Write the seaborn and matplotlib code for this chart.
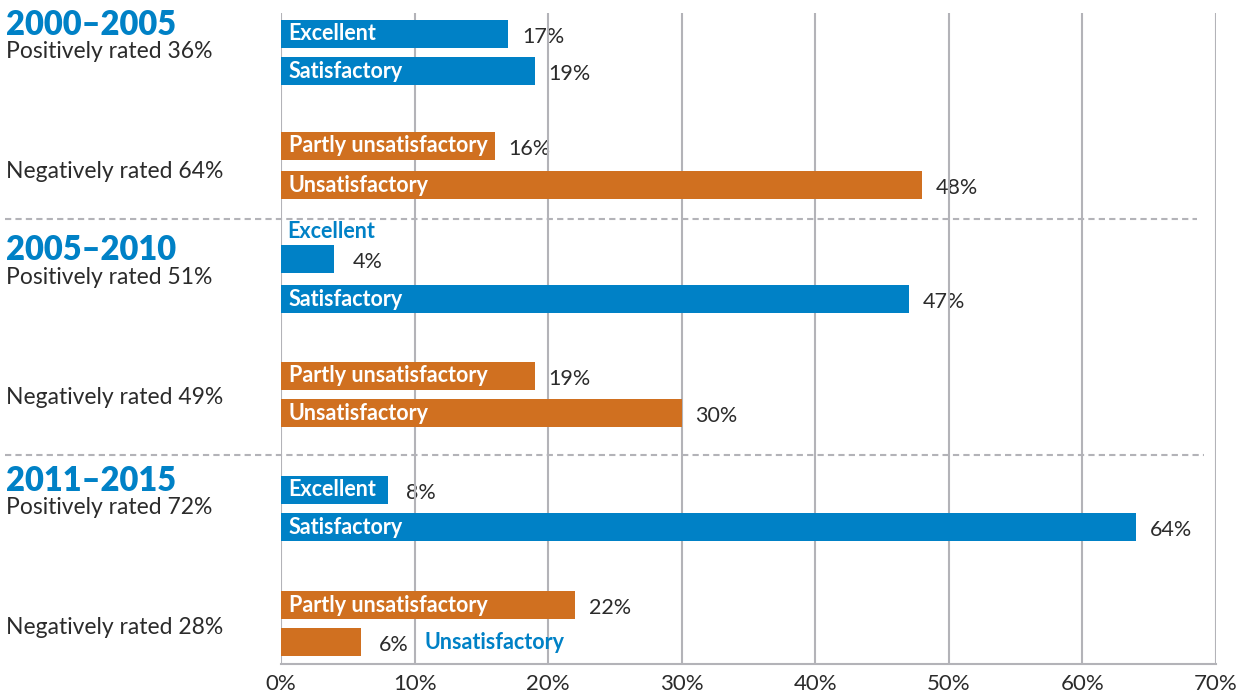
import matplotlib
matplotlib.use("Agg")
import matplotlib.pyplot as plt
import matplotlib.transforms as mtransforms
import pandas as pd
import seaborn as sns

# ---- data -------------------------------------------------------------
periods = ["2000–2005", "2005–2010", "2011–2015"]
ratings = ["Excellent", "Satisfactory", "Partly unsatisfactory", "Unsatisfactory"]
excellent = [17, 4, 8]
satisfactory = [19, 47, 64]
partly_unsatisfactory = [16, 19, 22]
unsatisfactory = [48, 30, 6]
positive_share = [36, 51, 72]
negative_share = [64, 49, 28]
x_ticks = [0, 10, 20, 30, 40, 50, 60, 70]

# ---- style ------------------------------------------------------------
BLUE = "#0081c6"
ORANGE = "#d07020"
GRID = "#b3b3b8"
TEXT = "#2b2b2b"

sns.set_theme(style="white")
plt.rcParams["font.family"] = ["Lato", "DejaVu Sans"]

# vertical layout (top-down row units, one unit per output pixel)
group_start = [34, 259, 490]
row_offset = [[0, 37, 112, 151], [0, 40, 117, 154], [0, 37, 115, 152]]
separators = [219, 455]
BAR_H = 28

values_by_rating = [excellent, satisfactory, partly_unsatisfactory, unsatisfactory]
rows = []
for g, period in enumerate(periods):
    for r, rating in enumerate(ratings):
        rows.append({
            "period": period,
            "rating": rating,
            "value": values_by_rating[r][g],
            "sentiment": "positive" if r < 2 else "negative",
            "ypos": group_start[g] + row_offset[g][r],
            "row": r,
        })
df = pd.DataFrame(rows)

fig = plt.figure(figsize=(12.49, 6.99), dpi=100)
ax = fig.add_axes([281 / 1249, 1 - 664 / 699, (1216 - 281) / 1249, (664 - 13) / 699])

sns.barplot(data=df, x="value", y="ypos", hue="sentiment",
            palette={"positive": BLUE, "negative": ORANGE},
            orient="h", native_scale=True, dodge=False, errorbar=None,
            saturation=1, legend=False, ax=ax, zorder=3)

# uniform bar thickness around each row centre
for p in ax.patches:
    c = p.get_y() + p.get_height() / 2
    p.set_height(BAR_H)
    p.set_y(c - BAR_H / 2)
    p.set_linewidth(0)

ax.set_xlim(0, 70)
ax.set_ylim(664, 13)
ax.set_xticks(x_ticks)
ax.set_xticklabels([f"{t}%" for t in x_ticks], fontsize=16, color=TEXT)
ax.set_yticks([])
ax.set_xlabel("")
ax.set_ylabel("")
ax.tick_params(axis="x", length=0, pad=7)
ax.set_axisbelow(False)
ax.grid(axis="x", color=GRID, linewidth=1.5, zorder=2.5)
ax.grid(axis="y", visible=False)
for side in ["top", "right", "left"]:
    ax.spines[side].set_visible(False)
ax.spines["bottom"].set_color(GRID)
ax.spines["bottom"].set_linewidth(1.5)

fig.canvas.draw()
renderer = fig.canvas.get_renderer()
px_per_unit = ax.transData.transform((1, 0))[0] - ax.transData.transform((0, 0))[0]

for _, row in df.iterrows():
    v, y = row["value"], row["ypos"]
    gap = 10 if v >= 10 else 13
    val_txt = ax.annotate(f"{v}%", (v, y), xytext=(gap, -2), textcoords="offset points",
                          va="center", ha="left", fontsize=15.5, color=TEXT, zorder=2)
    lab = ax.annotate(row["rating"], (0, y), xytext=(5.5, 0), textcoords="offset points",
                      va="center", ha="left", fontsize=15.5, fontweight="bold",
                      color="white", zorder=4)
    width_px = lab.get_window_extent(renderer).width
    # labels that do not fit inside their bar move outside it
    if width_px + 8 > v * px_per_unit:
        lab.remove()
        if row["row"] == 0:
            ax.annotate(row["rating"], (0, y - 28), xytext=(4.5, 0), textcoords="offset points",
                        va="center", ha="left", fontsize=15.5, fontweight="bold",
                        color=BLUE, zorder=4)
        else:
            ax.annotate(row["rating"], (1, 0.5), xycoords=val_txt, xytext=(11, 1.5),
                        textcoords="offset points", va="center", ha="left",
                        fontsize=15.5, fontweight="bold", color=BLUE, zorder=4)

# period headings and sentiment totals on the left
side = mtransforms.blended_transform_factory(fig.transFigure, ax.transData)
x_left = 6 / 1249
for g, period in enumerate(periods):
    y0 = group_start[g]
    ax.text(x_left, y0 - 9, period, transform=side, fontsize=23.5, fontweight="heavy",
            color=BLUE, va="center", ha="left", clip_on=False)
    ax.text(x_left, y0 + 18, f"Positively rated {positive_share[g]}%", transform=side,
            fontsize=16.5, color=TEXT, va="center", ha="left", clip_on=False)
    ax.text(x_left, y0 + 138, f"Negatively rated {negative_share[g]}%", transform=side,
            fontsize=16.5, color=TEXT, va="center", ha="left", clip_on=False)

# dashed separators between periods
sep_right = [1197 / 1249, 1204 / 1249]
for yy, xr in zip(separators, sep_right):
    ax.plot([5 / 1249, xr], [yy, yy], transform=side, clip_on=False,
            color=GRID, linewidth=1.5, linestyle=(0, (3, 2)), zorder=2)

fig.savefig("out.png", dpi=100, facecolor="white")
